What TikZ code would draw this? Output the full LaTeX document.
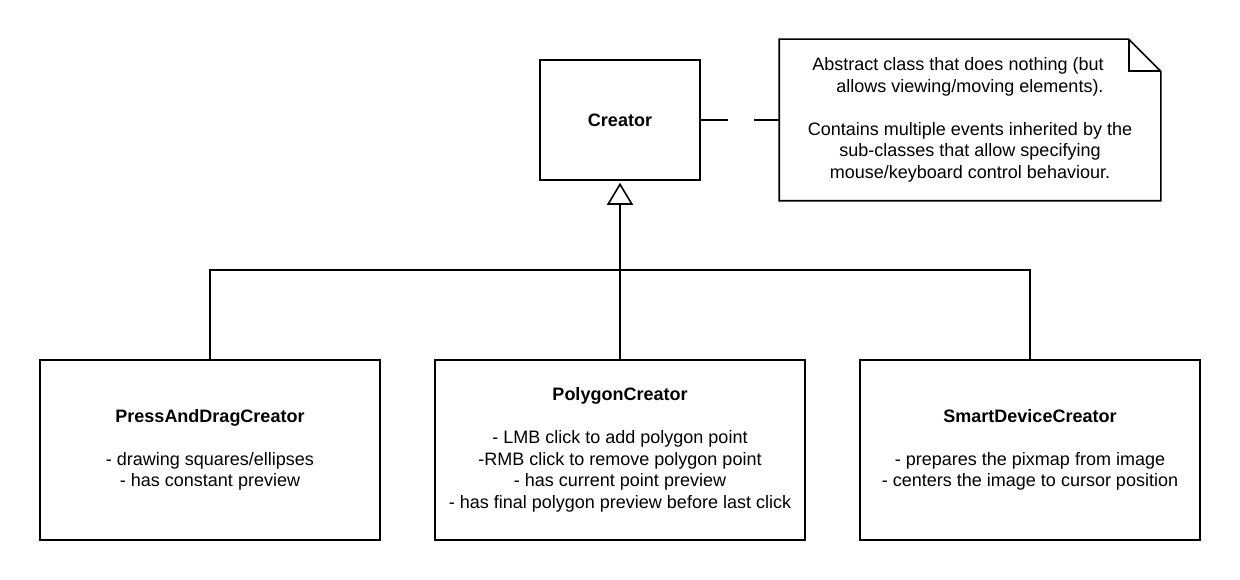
\documentclass[tikz,border=0pt]{standalone}
\usepackage{fontspec}
\setmainfont{Liberation Sans}
\usetikzlibrary{arrows.meta}
\begin{document}
\begin{tikzpicture}[x=1pt,y=-1pt,line width=1.6pt,font=\fontsize{18}{21.5}\selectfont]
	\def \toprow{120}
	\def \forkht{270}
	\def \bottomrow{450}
	\tikzstyle{c-node}=[rectangle,draw=black,inner sep=0pt,minimum width=160pt,minimum height=120pt,align=center]
	\tikzstyle{s-node}=[rectangle,draw=black,inner sep=0pt,minimum height=180pt,align=center]
	\tikzstyle{n-node}=[rectangle,inner sep=0pt,minimum width=380pt,minimum height=160pt,align=center]
	\useasboundingbox (0,0) rectangle (1240,580);

	% base class
	\node[c-node] 	(creator)	at (620,\toprow)	{\textbf{Creator}};

	% comment box
	\node[n-node] 	(note)	at (970,\toprow)	{Abstract class that does nothing (but\hspace*{24pt}\\
		allows viewing/moving elements).\\[21.5pt]
		Contains multiple events inherited by the\\
		sub-classes that allow specifying\\
		mouse/keyboard control behaviour.};
	\draw (note.north west) -- ([xshift=-32pt]note.north east) -- ([yshift=-32pt]note.north east) -- (note.south east) -- (note.south west) -- cycle;
	\draw ([xshift=-32pt]note.north east) |- ([yshift=-32pt]note.north east);
	\draw[dash pattern=on 27pt off 26pt] (creator.east) -- (note.west);

	% sub-classes
	\node[s-node,minimum width=340pt] 	(pd)	at (210,\bottomrow)	{\textbf{PressAndDragCreator}\\[21.5pt]
		- drawing squares/ellipses\\
		- has constant preview};
	\node[s-node,minimum width=370pt] 	(pc)	at (620,\bottomrow)	{\textbf{PolygonCreator}\\[21.5pt]
		- LMB click to add polygon point\\
		-RMB click to remove polygon point\\
		- has current point preview\\
		- has final polygon preview before last click};
	\node[s-node,minimum width=340pt] 	(sd)	at (1030,\bottomrow)	{\textbf{SmartDeviceCreator}\\[21.5pt]
		- prepares the pixmap from image\\
		- centers the image to cursor position};

	% inheritance
	\coordinate (fork) at (620,\forkht);
	\draw (pd.north) |- (fork) -| (sd.north);
	\draw[-{Triangle[open,length=22pt,width=26pt]},shorten >=2pt] (pc.north) -- (creator.south);
\end{tikzpicture}
\end{document}
